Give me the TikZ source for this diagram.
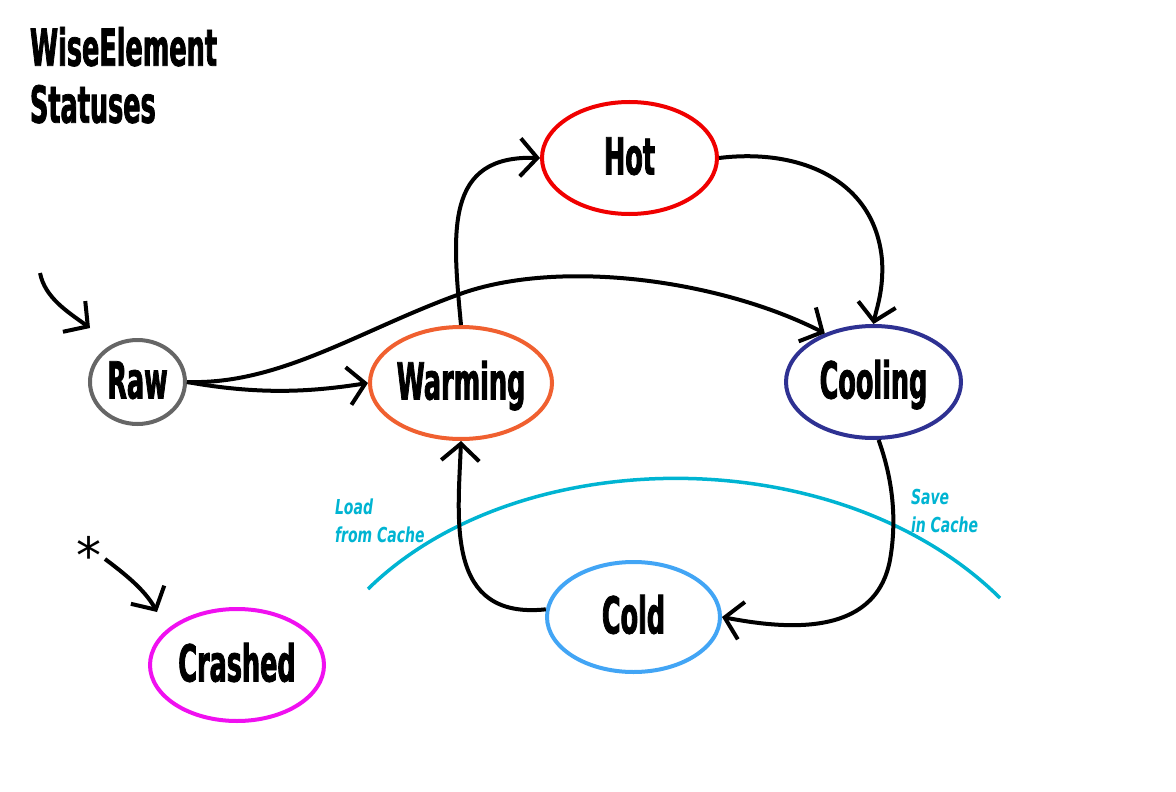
\documentclass[tikz,border=0pt]{standalone}
\usepackage{fontspec}
\usetikzlibrary{arrows.meta,shapes.geometric}
\newfontfamily\statefont[FakeStretch=0.5,BoldFeatures={FakeBold=1.5}]{DejaVu Sans}
\newfontfamily\notefont[FakeStretch=0.68]{DejaVu Sans}
\newfontfamily\starfont{DejaVu Sans}
\definecolor{rawgray}{RGB}{102,102,102}
\definecolor{warmorange}{RGB}{240,96,48}
\definecolor{hotred}{RGB}{240,0,0}
\definecolor{coolblue}{RGB}{46,49,146}
\definecolor{coldblue}{RGB}{66,165,245}
\definecolor{crashpink}{RGB}{240,16,240}
\definecolor{cachecyan}{RGB}{0,180,210}

\begin{document}
\begin{tikzpicture}[x=1pt,y=-1pt,line width=4pt,
  state/.style={ellipse,draw,inner sep=0,text height=36pt,text depth=3pt,
    font=\statefont\bfseries\fontsize{51}{57}\selectfont},
  trans/.style={-{Straight Barb[length=17pt,width=38pt]}},
  note/.style={anchor=north west,inner sep=0,align=left,text=cachecyan,
    font=\notefont\bfseries\itshape\fontsize{20.6}{28}\selectfont}]
\path[use as bounding box] (0,0) rectangle (1176,792);
\node[anchor=north west,inner sep=0,align=left,font=\statefont\bfseries\fontsize{51}{57}\selectfont] (title) at (28,25) {WiseElement\\Statuses};
\foreach \n/\t/\x/\y/\w/\h/\c in {raw/Raw/137.5/382/95/84/rawgray,
    warm/Warming/461/383/174/112/warmorange, hot/Hot/629.5/158/175/112/hotred,
    cool/Cooling/873.5/382/175/112/coolblue, cold/Cold/633.5/617/173/110/coldblue,
    crash/Crashed/237/665/174/112/crashpink}
  \node[state,draw=\c,minimum width=\w pt,minimum height=\h pt] (\n) at (\x,\y) {\t};
\draw[cachecyan,line width=3.5pt] (368,589) .. controls (520,440) and (840,440) .. (1000,598);
\node[note] (load) at (333,497) {Load\\from Cache};
\node[note] (save) at (909,487) {Save\\in Cache};
\node[anchor=north,inner sep=0,font=\starfont\fontsize{50}{50}\selectfont] (star) at (89,534) {*};
\coordinate (rawfrom) at (40,273);
\coordinate (rawto) at (90,328);
\coordinate (crashfrom) at (105,559);
\coordinate (crashto) at (157,612);
\draw[trans] (rawfrom) .. controls (45,298) and (68,312) .. (rawto);
\draw[trans] (crashfrom) .. controls (125,574) and (145,590) .. (crashto);
\draw[trans] (raw.east) .. controls (260,395) and (310,392) .. (warm.west);
\draw[trans] (raw.east) .. controls (280,385) and (360,330) .. (460,294)
  .. controls (560,258) and (720,280) .. (cool.135);
\draw[trans] (warm.north) .. controls (452,230) and (445,155) .. (hot.west);
\draw[trans] (hot.east) .. controls (800,148) and (875,180) .. (882,260)
  .. controls (884,290) and (876,310) .. (cool.north);
\draw[trans] (cool.-85) .. controls (893,480) and (897,520) .. (890,560)
  .. controls (875,640) and (780,628) .. (cold.east);
\draw[trans] (cold.175) .. controls (445,620) and (458,520) .. (warm.south);
\end{tikzpicture}
\end{document}
